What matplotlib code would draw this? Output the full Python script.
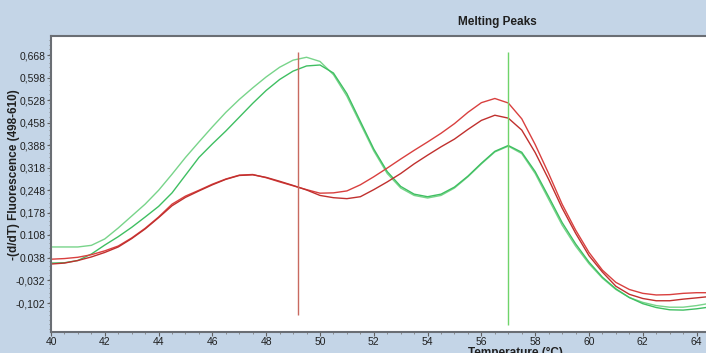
import numpy as np
import matplotlib
matplotlib.use("Agg")
import matplotlib.pyplot as plt
from matplotlib.ticker import FixedLocator, MultipleLocator

# temperature grid (deg C)
temps = [40.0, 40.5, 41.0, 41.5, 42.0, 42.5, 43.0, 43.5, 44.0, 44.5,
         45.0, 45.5, 46.0, 46.5, 47.0, 47.5, 48.0, 48.5, 49.0, 49.5,
         50.0, 50.5, 51.0, 51.5, 52.0, 52.5, 53.0, 53.5, 54.0, 54.5,
         55.0, 55.5, 56.0, 56.5, 57.0, 57.5, 58.0, 58.5, 59.0, 59.5,
         60.0, 60.5, 61.0, 61.5, 62.0, 62.5, 63.0, 63.5, 64.0, 64.35]

green_a = [0.072, 0.072, 0.072, 0.077, 0.097, 0.131, 0.168, 0.205, 0.248, 0.298,
           0.350, 0.398, 0.445, 0.490, 0.530, 0.566, 0.600, 0.630, 0.652, 0.661,
           0.648, 0.607, 0.540, 0.455, 0.370, 0.300, 0.255, 0.232, 0.224, 0.232,
           0.255, 0.290, 0.330, 0.367, 0.385, 0.362, 0.300, 0.220, 0.140, 0.075,
           0.020, -0.025, -0.060, -0.085, -0.100, -0.110, -0.115, -0.115, -0.110, -0.105]

green_b = [0.022, 0.023, 0.030, 0.050, 0.078, 0.104, 0.133, 0.165, 0.198, 0.240,
           0.295, 0.350, 0.392, 0.432, 0.475, 0.518, 0.558, 0.592, 0.618, 0.634,
           0.637, 0.612, 0.548, 0.462, 0.376, 0.306, 0.260, 0.236, 0.228, 0.236,
           0.258, 0.292, 0.332, 0.369, 0.387, 0.366, 0.306, 0.228, 0.148, 0.082,
           0.025, -0.022, -0.058, -0.085, -0.104, -0.116, -0.123, -0.124, -0.120, -0.116]

red_a = [0.034, 0.036, 0.040, 0.048, 0.060, 0.075, 0.100, 0.130, 0.165, 0.205,
         0.230, 0.248, 0.267, 0.283, 0.295, 0.297, 0.287, 0.274, 0.262, 0.250,
         0.239, 0.240, 0.246, 0.265, 0.290, 0.317, 0.345, 0.372, 0.398, 0.425,
         0.455, 0.490, 0.520, 0.533, 0.519, 0.470, 0.390, 0.300, 0.205, 0.125,
         0.055, 0.000, -0.038, -0.060, -0.072, -0.077, -0.076, -0.072, -0.070, -0.070]

red_b = [0.019, 0.022, 0.030, 0.041, 0.055, 0.072, 0.098, 0.128, 0.163, 0.200,
         0.226, 0.246, 0.265, 0.282, 0.294, 0.296, 0.288, 0.276, 0.263, 0.249,
         0.232, 0.225, 0.222, 0.228, 0.250, 0.274, 0.300, 0.330, 0.357, 0.383,
         0.407, 0.437, 0.465, 0.481, 0.472, 0.435, 0.365, 0.282, 0.193, 0.115,
         0.045, -0.006, -0.050, -0.075, -0.088, -0.095, -0.095, -0.090, -0.086, -0.083]

# peak marker lines: temperature, lower end, upper end
marker_temps = [49.2, 57.0]
marker_low = [-0.14, -0.17]
marker_high = [0.677, 0.677]

y_ticks = [0.668, 0.598, 0.528, 0.458, 0.388, 0.318, 0.248, 0.178, 0.108, 0.038, -0.032, -0.102]
y_tick_labels = ["0,668", "0,598", "0,528", "0,458", "0,388", "0,318", "0,248", "0,178",
                 "0.108", "0.038", "-0,032", "-0,102"]
x_ticks = [40, 42, 44, 46, 48, 50, 52, 54, 56, 58, 60, 62, 64]

BG = "#c4d5e7"


def main():
    plt.rcParams["font.family"] = ["Liberation Sans", "DejaVu Sans"]

    fig = plt.figure(figsize=(7.06, 3.53), dpi=100, facecolor=BG)
    ax = fig.add_axes([51 / 706, 1 - 332 / 353, 655 / 706, 296 / 353])
    ax.set_facecolor("white")

    # curves
    ax.plot(temps, green_a, color="#78d48a", lw=1.0)
    ax.plot(temps, green_b, color="#3fbf62", lw=1.0)
    ax.plot(temps, red_a, color="#d9403f", lw=1.0)
    ax.plot(temps, red_b, color="#c0302e", lw=1.0)

    # peak markers
    ax.vlines(marker_temps[0], marker_low[0], marker_high[0], color="#c86a60", lw=1.0)
    ax.vlines(marker_temps[1], marker_low[1], marker_high[1], color="#6fd46a", lw=1.0)

    ax.set_xlim(40, 64.35)
    ax.set_ylim(-0.192, 0.727)

    ax.xaxis.set_major_locator(FixedLocator(x_ticks))
    ax.xaxis.set_minor_locator(MultipleLocator(0.5))
    ax.set_yticks(y_ticks)
    ax.set_yticklabels(y_tick_labels)
    ax.yaxis.set_minor_locator(MultipleLocator(0.014))

    ax.tick_params(axis="both", which="major", labelsize=7.5, length=3,
                   color="#606060", labelcolor="#202020", pad=1)
    ax.tick_params(axis="x", which="major", pad=0.5)
    ax.tick_params(axis="both", which="minor", length=1.5, color="#808080")

    for side in ["left", "bottom", "top"]:
        ax.spines[side].set_color("#6a6e74")
        ax.spines[side].set_linewidth(1.5)
    ax.spines["right"].set_visible(False)

    fig.text(497 / 706, 1 - 22 / 353, "Melting Peaks", ha="center", va="center",
             fontsize=8.5, fontweight="bold", color="#202020")
    fig.text(14 / 706, 1 - 175 / 353, "-(d/dT) Fluorescence (498-610)", rotation=90,
             ha="center", va="center", fontsize=8.5, fontweight="bold", color="#202020")
    fig.text(515 / 706, 1 - 347 / 353, "Temperature (\u00b0C)", ha="center", va="top",
             fontsize=8.5, fontweight="bold", color="#202020")

    fig.savefig("out.png", dpi=100, facecolor=BG)


if __name__ == "__main__":
    main()
